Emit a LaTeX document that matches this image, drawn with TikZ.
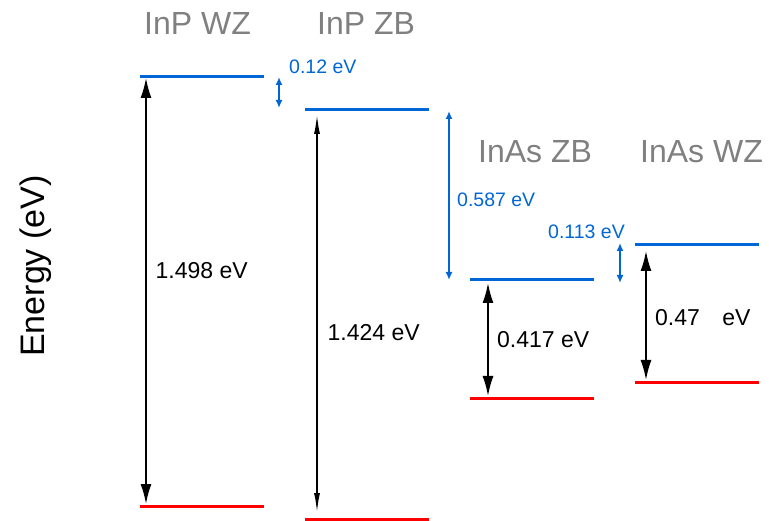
\documentclass[tikz,border=0pt]{standalone}
\usepackage{fontspec}
\setmainfont{Liberation Sans}
\usetikzlibrary{arrows.meta}
\definecolor{lvlblue}{RGB}{0,102,214}
\definecolor{lvlred}{RGB}{255,0,0}
\definecolor{titlegray}{RGB}{128,128,128}
\begin{document}
\begin{tikzpicture}[x=1pt,y=-1pt,
  cb/.style={draw=lvlblue,line width=3pt},
  vb/.style={draw=lvlred,line width=3pt},
  gap/.style={draw=black,line width=1.8pt,{Latex[length=20pt,width=11pt]}-{Latex[length=20pt,width=11pt]}},
  gapthin/.style={draw=black,line width=1.8pt,{Latex[length=20pt,width=6pt]}-{Latex[length=20pt,width=6pt]}},
  off/.style={draw=lvlblue,line width=1.8pt,{Latex[length=8pt,width=7pt]}-{Latex[length=8pt,width=7pt]}},
  ttl/.style={anchor=base west,inner sep=0pt,text=titlegray,font=\fontsize{32}{36}\selectfont},
  blbl/.style={anchor=base west,inner sep=0pt,text=black,font=\fontsize{23}{27}\selectfont},
  olbl/.style={anchor=base west,inner sep=0pt,text=lvlblue,font=\fontsize{19.5}{23}\selectfont}]
\useasboundingbox (0,0) rectangle (769,521);
% levels
\coordinate (wzpcL) at (140,76.7); \coordinate (wzpcR) at (264,76.7);
\coordinate (wzpvL) at (140,506.3); \coordinate (wzpvR) at (264,506.3);
\coordinate (zbpcL) at (305,110); \coordinate (zbpcR) at (429,110);
\coordinate (zbpvL) at (305,519.3); \coordinate (zbpvR) at (429,519.3);
\coordinate (zbacL) at (470,279.3); \coordinate (zbacR) at (594,279.3);
\coordinate (zbavL) at (470,399); \coordinate (zbavR) at (594,399);
\coordinate (wzacL) at (635,244.5); \coordinate (wzacR) at (759,244.5);
\coordinate (wzavL) at (635,382.7); \coordinate (wzavR) at (759,382.7);
\draw[cb] (wzpcL) -- (wzpcR);
\draw[vb] (wzpvL) -- (wzpvR);
\draw[cb] (zbpcL) -- (zbpcR);
\draw[vb] (zbpvL) -- (zbpvR);
\draw[cb] (zbacL) -- (zbacR);
\draw[vb] (zbavL) -- (zbavR);
\draw[cb] (wzacL) -- (wzacR);
\draw[vb] (wzavL) -- (wzavR);
% gap arrows
\coordinate (g1t) at (146,78); \coordinate (g1b) at (146,504);
\coordinate (g2t) at (317,114); \coordinate (g2b) at (317,513);
\coordinate (g3t) at (488,283); \coordinate (g3b) at (488,396);
\coordinate (g4t) at (646,251); \coordinate (g4b) at (646,380);
\draw[gap] (g1t) -- (g1b);
\draw[gapthin] (g2t) -- (g2b);
\draw[gap] (g3t) -- (g3b);
\draw[gap] (g4t) -- (g4b);
% offset arrows
\coordinate (o1t) at (279,77); \coordinate (o1b) at (279,108);
\coordinate (o2t) at (449,111); \coordinate (o2b) at (449,280);
\coordinate (o3t) at (620,243); \coordinate (o3b) at (620,283);
\draw[off] (o1t) -- (o1b);
\draw[off] (o2t) -- (o2b);
\draw[off] (o3t) -- (o3b);
% titles
\node[ttl] (t1) at (144,35) {InP WZ};
\node[ttl] (t2) at (317,35) {InP ZB};
\node[ttl] (t3) at (478,163) {InAs ZB};
\node[ttl] (t4) at (640,163) {InAs WZ};
% gap labels
\node[blbl] (l1) at (155.5,279) {1.498 eV};
\node[blbl] (l2) at (327.5,341) {1.424 eV};
\node[blbl] (l3) at (497,348) {0.417 eV};
\node[blbl] (l4) at (655,326) {0.47\hspace{16pt} eV};
% offset labels
\node[olbl] (m1) at (289,74) {0.12 eV};
\node[olbl] (m2) at (457,206.7) {0.587 eV};
\node[olbl] (m3) at (548,239) {0.113 eV};
% axis label
\node[anchor=base west,inner sep=0pt,rotate=90,font=\fontsize{34}{38}\selectfont] (ax) at (44,357) {Energy (eV)};
\end{tikzpicture}
\end{document}
